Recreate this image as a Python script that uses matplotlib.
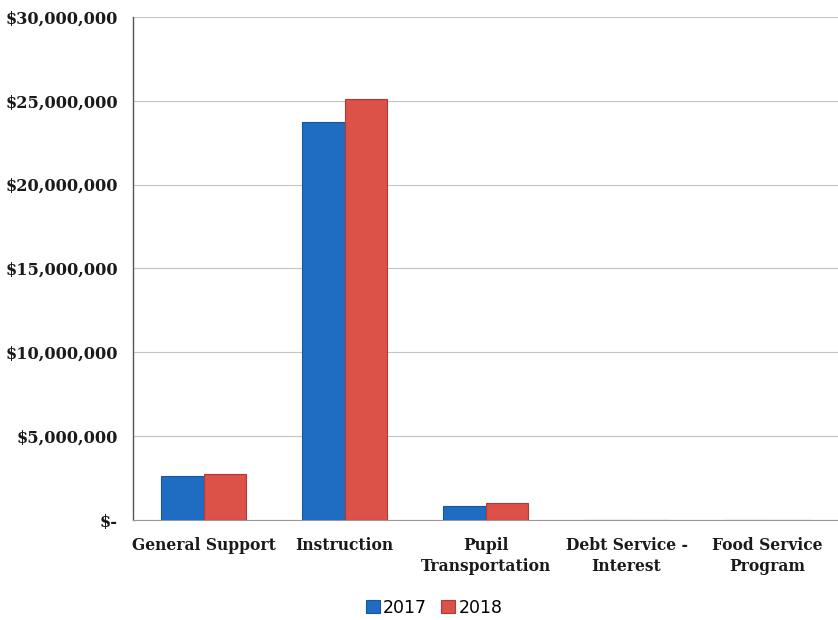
import matplotlib
matplotlib.use("Agg")
import matplotlib.pyplot as plt
import numpy as np

categories = ["General Support", "Instruction", "Pupil\nTransportation",
              "Debt Service -\nInterest", "Food Service\nProgram"]
series_names = ["2017", "2018"]
values_2017 = [2620000, 23700000, 830000, 0, 0]
values_2018 = [2740000, 25100000, 1000000, 0, 0]
yticks = [0, 5000000, 10000000, 15000000, 20000000, 25000000, 30000000]
ytick_labels = ["$-", "$5,000,000", "$10,000,000", "$15,000,000",
                "$20,000,000", "$25,000,000", "$30,000,000"]

colors = ["#1f6dc2", "#dc5148"]
edge_colors = ["#17569a", "#b23a33"]

fig = plt.figure(figsize=(8.38, 6.2), dpi=100)
ax = fig.add_axes([0.159, 0.161, 0.841, 0.812])

x = np.arange(len(categories))
w = 0.3
ax.bar(x - w / 2, values_2017, width=w, color=colors[0], edgecolor=edge_colors[0],
       linewidth=0.8, label=series_names[0], zorder=3)
ax.bar(x + w / 2, values_2018, width=w, color=colors[1], edgecolor=edge_colors[1],
       linewidth=0.8, label=series_names[1], zorder=3)

ax.set_xlim(-0.5, len(categories) - 0.5)
ax.set_ylim(0, 30000000)
ax.set_yticks(yticks)
ax.set_yticklabels(ytick_labels, fontfamily="DejaVu Serif", fontweight="bold",
                   fontsize=11.6, color="#1a1a1a")
ax.set_xticks(x)
ax.set_xticklabels(categories, fontfamily="DejaVu Serif", fontweight="bold",
                   fontsize=11.2, color="#1a1a1a", linespacing=1.3)
ax.tick_params(axis="y", length=0, pad=11)
ax.tick_params(axis="x", length=0, pad=12)

ax.grid(axis="y", color="#c4c4c4", linewidth=0.8, zorder=0)
for s in ["top", "right"]:
    ax.spines[s].set_visible(False)
ax.spines["left"].set_color("#555555")
ax.spines["left"].set_linewidth(1.0)
ax.spines["bottom"].set_color("#999999")
ax.spines["bottom"].set_linewidth(0.8)

leg = fig.legend(loc="lower center", bbox_to_anchor=(0.518, -0.02), ncol=2,
                 frameon=False, handlelength=0.8, handleheight=0.8,
                 handletextpad=0.2, columnspacing=0.8,
                 prop={"family": "DejaVu Sans", "size": 12.5})

fig.savefig("out.png", dpi=100)
